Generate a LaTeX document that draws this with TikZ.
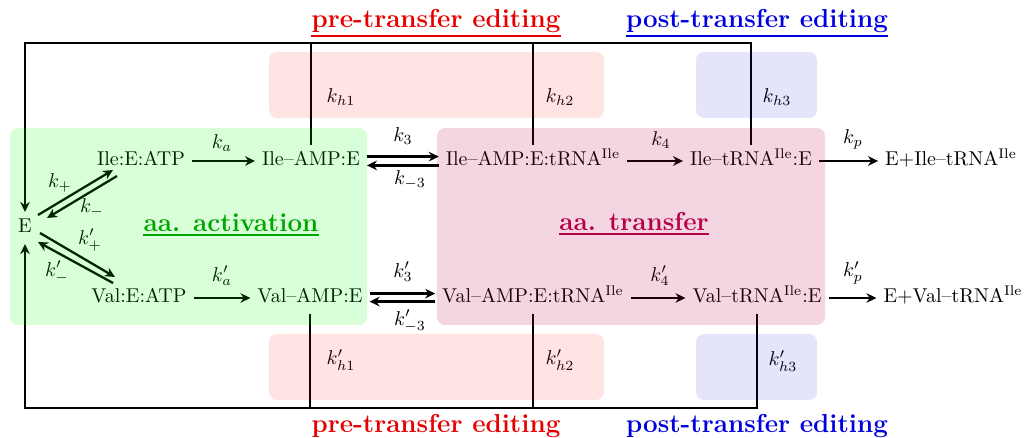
\documentclass[tikz,border=0pt]{standalone}
\usetikzlibrary{arrows.meta,calc}
\definecolor{actbg}{RGB}{0,255,0}
\definecolor{prebg}{RGB}{255,0,0}
\definecolor{postbg}{RGB}{0,0,220}
\definecolor{actfg}{RGB}{0,150,0}
\definecolor{trfg}{RGB}{182,0,72}
\definecolor{prefg}{RGB}{230,0,0}
\definecolor{postfg}{RGB}{0,0,222}
\begin{document}
\begin{tikzpicture}[x=0.5pt,y=-0.5pt,
  sp/.style={text height=7pt,text depth=2pt},
  arr/.style={line width=1.15pt,-{Stealth[length=5pt,width=4.8pt]}},
  ln/.style={line width=1.15pt},
  lbl/.style={font=\fontsize{13}{15}\selectfont\bfseries,inner sep=0pt,anchor=base},
  ul/.style={line width=1pt},
  shade/.style={rounded corners=4pt}]
\useasboundingbox (0,0) rectangle (1029,438);
% species
\node[sp] (E) at (25,228) {E};
\node[sp] (IA) at (141,161) {Ile:E:ATP};
\node[sp] (IM) at (311,161) {Ile--AMP:E};
\node[sp] (IMT) at (533,161) {Ile--AMP:E:tRNA$^{\mathrm{Ile}}$};
\node[sp] (IT) at (751,161) {Ile--tRNA$^{\mathrm{Ile}}$:E};
\node[sp] (IP) at (951,161) {E+Ile--tRNA$^{\mathrm{Ile}}$};
\node[sp] (VA) at (139,298) {Val:E:ATP};
\node[sp] (VM) at (310,298) {Val--AMP:E};
\node[sp] (VMT) at (533,298) {Val--AMP:E:tRNA$^{\mathrm{Ile}}$};
\node[sp] (VT) at (757,298) {Val--tRNA$^{\mathrm{Ile}}$:E};
\node[sp] (VP) at (953,298) {E+Val--tRNA$^{\mathrm{Ile}}$};
% E <-> ATP complexes
\draw[arr] ([shift={(13,-13)}]E.center) -- ([shift={(-28,9)}]IA.center);
\draw[arr] ([shift={(-24,15)}]IA.center) -- ([shift={(22,-10)}]E.center);
\draw[arr] ([shift={(15,5)}]E.center) -- ([shift={(-24,-21)}]VA.center);
\draw[arr] ([shift={(-26,-15)}]VA.center) -- ([shift={(13,14)}]E.center);
\node (kp) at (60,183) {$k_+$};
\node (km) at (92,208) {$k_-$};
\node (kpp) at (90,240) {$k'_+$};
\node (kmp) at (57,272) {$k'_-$};
% forward steps
\draw[arr] (IA) -- (IM);
\node (ka) at (222,143) {$k_a$};
\draw[arr] (VA) -- (VM);
\node (kap) at (222,276) {$k'_a$};
\draw[arr] ([yshift=2.2pt]IM.east) -- ([yshift=2.2pt]IMT.west);
\draw[arr] ([yshift=-2.2pt]IMT.west) -- ([yshift=-2.2pt]IM.east);
\node (k3) at (403,136) {$k_3$};
\node (km3) at (410,180) {$k_{-3}$};
\draw[arr] ([yshift=2.2pt]VM.east) -- ([yshift=2.2pt]VMT.west);
\draw[arr] ([yshift=-1.8pt]VMT.west) -- ([yshift=-1.8pt]VM.east);
\node (k3p) at (403,272) {$k'_3$};
\node (km3p) at (410,321) {$k'_{-3}$};
\draw[arr] (IMT) -- (IT);
\node (k4) at (661,140) {$k_4$};
\draw[arr] (VMT) -- (VT);
\node (k4p) at (660,276) {$k'_4$};
\draw[arr] (IT) -- (IP);
\node (kpr) at (853,139) {$k_p$};
\draw[arr] (VT) -- (VP);
\node (kprp) at (853,273) {$k'_p$};
% editing loops
\coordinate (TL) at (25,43);
\coordinate (BL) at (25,408);
\draw[arr] (IT.north) |- (TL) -- (E);
\draw[ln] (IM.north) -- (IM.north |- TL);
\draw[ln] (IMT.north) -- (IMT.north |- TL);
\draw[arr] (VT.south) |- (BL) -- (E);
\draw[ln] (VM.south) -- (VM.south |- BL);
\draw[ln] (VMT.south) -- (VMT.south |- BL);
\node (kh1) at (341,97) {$k_{h1}$};
\node (kh2) at (560,97) {$k_{h2}$};
\node (kh3) at (777,97) {$k_{h3}$};
\node (kh1p) at (341,360) {$k'_{h1}$};
\node (kh2p) at (560,360) {$k'_{h2}$};
\node (kh3p) at (783,361) {$k'_{h3}$};
% section labels
\node[lbl,text=prefg] (pre1) at (436,28) {pre-transfer editing};
\draw[ul,prefg] ([yshift=-1.3pt]pre1.south west) -- ([yshift=-1.3pt]pre1.south east);
\node[lbl,text=postfg] (post1) at (757,28) {post-transfer editing};
\draw[ul,postfg] ([yshift=-1.3pt]post1.south west) -- ([yshift=-1.3pt]post1.south east);
\node[lbl,text=prefg] (pre2) at (436,432) {pre-transfer editing};
\node[lbl,text=postfg] (post2) at (757,432) {post-transfer editing};
\node[lbl,text=actfg] (act) at (231,232) {aa. activation};
\draw[ul,actfg] ([yshift=-1.3pt]act.south west) -- ([yshift=-1.3pt]act.south east);
\node[lbl,text=trfg] (tr) at (634,231) {aa. transfer};
\draw[ul,trfg] ([yshift=-1.3pt]tr.south west) -- ([yshift=-1.3pt]tr.south east);
% translucent region boxes, laid over the content
\fill[shade,actbg,fill opacity=0.15] (10,128) rectangle (367,325);
\fill[shade,trfg,fill opacity=0.16] (437,128) rectangle (825,325);
\fill[shade,prebg,fill opacity=0.106] (269,52) rectangle (604,118);
\fill[shade,postbg,fill opacity=0.106] (696,52) rectangle (817,118);
\fill[shade,prebg,fill opacity=0.106] (269,334) rectangle (604,400);
\fill[shade,postbg,fill opacity=0.106] (696,334) rectangle (817,400);
\end{tikzpicture}
\end{document}
